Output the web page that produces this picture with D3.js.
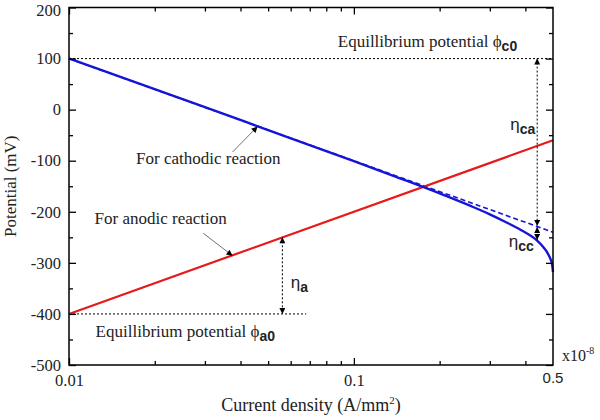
<!doctype html>
<html lang="en">
<head>
  <meta charset="utf-8">
  <title>Potential vs current density</title>
  <script src="https://cdn.jsdelivr.net/npm/d3@7"></script>
  <style>
    body { margin: 0; background: #fff; }
    svg text { font-family: "Liberation Serif", "Times New Roman", Times, "DejaVu Serif", serif; fill: #222; }
    svg text.sans, svg tspan.sans { font-family: "Liberation Sans", Arial, "DejaVu Sans", sans-serif; }
    .axis path, .axis line { stroke: #000; }
  </style>
</head>
<body>
<svg id="chart"></svg>
<script>
  'use strict';

  // data (current density in 1e-8 A/mm2, potential in mV)
  var cathodicI   = [0.01, 0.03, 0.05, 0.1, 0.146, 0.2, 0.258, 0.3, 0.338, 0.387, 0.437, 0.462, 0.483, 0.496, 0.5];
  var cathodicV   = [100, 5, -40, -101, -135, -164, -189, -205, -219, -236, -255, -269, -285, -303, -318];
  var tafelI      = [0.01, 0.5];
  var tafelV      = [100, -240];
  var anodicI     = [0.01, 0.5];
  var anodicV     = [-400, -60];

  var yMajor = [-500, -400, -300, -200, -100, 0, 100, 200];
  var yMinor = [-450, -350, -250, -150, -50, 50, 150];
  var xMajor = [0.01, 0.1];
  var xMinor = [0.02, 0.03, 0.04, 0.05, 0.06, 0.07, 0.08, 0.09, 0.2, 0.3, 0.4];

  var WIDTH = 600, HEIGHT = 420;
  var LEFT = 69, TOP = 7.5, RIGHT = 553, BOTTOM = 365;
  var SERIF = "'Liberation Serif', 'Times New Roman', Times, 'DejaVu Serif', serif";

  var svg = d3.select("#chart").attr("width", WIDTH).attr("height", HEIGHT);

  var x = d3.scaleLog().domain([0.01, 0.5]).range([LEFT, RIGHT]);
  var y = d3.scaleLinear().domain([-500, 200]).range([BOTTOM, TOP]);

  function pts(xs, ys) { return xs.map(function(d, i){ return [d, ys[i]]; }); }

  var line = d3.line()
    .x(function(d){ return x(d[0]); })
    .y(function(d){ return y(d[1]); })
    .curve(d3.curveMonotoneX);

  // markers
  var defs = svg.append("defs");
  defs.append("marker").attr("id", "arr")
    .attr("viewBox", "0 0 10 10").attr("refX", 10).attr("refY", 5)
    .attr("markerWidth", 9).attr("markerHeight", 6).attr("markerUnits", "userSpaceOnUse")
    .attr("orient", "auto-start-reverse")
    .append("path").attr("d", "M0,0 L10,5 L0,10 z").attr("fill", "#000");

  // dotted reference lines
  svg.append("line")
    .attr("x1", x(0.01)).attr("x2", x(0.5)).attr("y1", y(100)).attr("y2", y(100))
    .attr("stroke", "#000").attr("stroke-width", 1).attr("stroke-dasharray", "2,2");
  svg.append("line")
    .attr("x1", x(0.01)).attr("x2", x(0.068)).attr("y1", y(-400)).attr("y2", y(-400))
    .attr("stroke", "#000").attr("stroke-width", 1).attr("stroke-dasharray", "2,2");

  // curves
  svg.append("path").datum(pts(tafelI, tafelV)).attr("d", line)
    .attr("fill", "none").attr("stroke", "#1515d8").attr("stroke-width", 1.6).attr("stroke-dasharray", "5,3");
  svg.append("path").datum(pts(anodicI, anodicV)).attr("d", line)
    .attr("fill", "none").attr("stroke", "#e61a1a").attr("stroke-width", 2.2);
  svg.append("path").datum(pts(cathodicI, cathodicV)).attr("d", line)
    .attr("fill", "none").attr("stroke", "#1515d8").attr("stroke-width", 2.4);

  // overpotential arrows
  function vArrow(xi, v1, v2) {
    svg.append("line")
      .attr("x1", x(xi)).attr("x2", x(xi)).attr("y1", y(v1)).attr("y2", y(v2))
      .attr("stroke", "#000").attr("stroke-width", 1).attr("stroke-dasharray", "2,2")
      .attr("marker-start", "url(#arr)").attr("marker-end", "url(#arr)");
  }
  vArrow(0.44, 100, -228);
  vArrow(0.44, -230, -255);
  vArrow(0.0561, -250, -400);

  // pointer arrows
  function pointer(i1, v1, i2, v2) {
    svg.append("line")
      .attr("x1", x(i1)).attr("y1", y(v1)).attr("x2", x(i2)).attr("y2", y(v2))
      .attr("stroke", "#333").attr("stroke-width", 0.7).attr("marker-end", "url(#arr)");
  }
  pointer(0.0375, -83, 0.0459, -33);
  pointer(0.0296, -242, 0.0375, -286);

  // labels
  function serifText(px, py, size, str) {
    return svg.append("text").attr("x", px).attr("y", py).attr("font-size", size)
      .style("font-family", SERIF).text(str);
  }
  serifText(x(0.0172), y(-106), 17, "For cathodic reaction");
  serifText(x(0.0123), y(-224), 17, "For anodic reaction");

  var eq1 = serifText(x(0.0878), y(123), 17, null);
  eq1.append("tspan").text("Equillibrium potential \u03d5");
  eq1.append("tspan").attr("class", "sans").attr("font-size", 14).attr("font-weight", "bold")
    .attr("dy", 4).text("c0");

  var eq2 = serifText(x(0.0124), y(-445), 17, null);
  eq2.append("tspan").text("Equillibrium potential \u03d5");
  eq2.append("tspan").attr("class", "sans").attr("font-size", 14).attr("font-weight", "bold")
    .attr("dy", 4).text("a0");

  function eta(i, v, sub) {
    var t = svg.append("text").attr("x", x(i)).attr("y", y(v)).attr("class", "sans").attr("font-size", 17);
    t.append("tspan").text("\u03b7");
    t.append("tspan").attr("font-size", 14).attr("font-weight", "bold").attr("dy", 4).text(sub);
  }
  eta(0.354, -40, "ca");
  eta(0.35, -269, "cc");
  eta(0.060, -349, "a");

  // axes
  svg.append("rect").attr("x", LEFT).attr("y", TOP).attr("width", RIGHT - LEFT).attr("height", BOTTOM - TOP)
    .attr("fill", "none").attr("stroke", "#000").attr("stroke-width", 1.5);

  function ticks(g, axis) { g.attr("class", "axis").call(axis); g.select(".domain").remove(); return g; }
  function plain(d) { return String(d); }

  ticks(svg.append("g").attr("transform", "translate(0," + BOTTOM + ")"),
    d3.axisBottom(x).tickValues(xMajor).tickSize(-7).tickPadding(9).tickFormat(plain));
  ticks(svg.append("g").attr("transform", "translate(0," + BOTTOM + ")"),
    d3.axisBottom(x).tickValues(xMinor).tickSize(-4).tickFormat(""));
  ticks(svg.append("g").attr("transform", "translate(0," + TOP + ")"),
    d3.axisTop(x).tickValues(xMajor).tickSize(-7).tickFormat(""));
  ticks(svg.append("g").attr("transform", "translate(0," + TOP + ")"),
    d3.axisTop(x).tickValues(xMinor).tickSize(-4).tickFormat(""));

  var yAxis = ticks(svg.append("g").attr("transform", "translate(" + LEFT + ",0)"),
    d3.axisLeft(y).tickValues(yMajor).tickSize(-7).tickPadding(8).tickFormat(plain));
  ticks(svg.append("g").attr("transform", "translate(" + LEFT + ",0)"),
    d3.axisLeft(y).tickValues(yMinor).tickSize(-4).tickFormat(""));
  ticks(svg.append("g").attr("transform", "translate(" + RIGHT + ",0)"),
    d3.axisRight(y).tickValues(yMajor).tickSize(-7).tickFormat(""));
  ticks(svg.append("g").attr("transform", "translate(" + RIGHT + ",0)"),
    d3.axisRight(y).tickValues(yMinor).tickSize(-4).tickFormat(""));

  svg.selectAll(".axis").attr("font-family", null);
  svg.selectAll(".axis text").attr("font-size", 16.5).attr("fill", "#222").style("font-family", SERIF);
  svg.selectAll(".axis line").attr("stroke-width", 1.3);
  // keep the top label inside the picture
  yAxis.selectAll(".tick text").filter(function(d){ return d === 200; }).attr("dy", "0.5em");

  // right end label in sans
  svg.append("text").attr("class", "sans").attr("x", x(0.5)).attr("y", 383)
    .attr("text-anchor", "middle").attr("font-size", 15).text("0.5");
  var mult = serifText(RIGHT + 9, BOTTOM - 4, 16, null);
  mult.append("tspan").text("x10");
  mult.append("tspan").attr("font-size", 10).attr("dy", -7).text("-8");

  // axis titles
  var xt = serifText((LEFT + RIGHT) / 2, 411, 18, null).attr("text-anchor", "middle");
  xt.append("tspan").text("Current density (A/mm");
  xt.append("tspan").attr("font-size", 11).attr("dy", -7).text("2");
  xt.append("tspan").attr("dy", 7).text(")");

  serifText(0, 0, 17, "Potential (mV)")
    .attr("transform", "translate(16," + ((TOP + BOTTOM) / 2) + ") rotate(-90)")
    .attr("text-anchor", "middle");
</script>
</body>
</html>
